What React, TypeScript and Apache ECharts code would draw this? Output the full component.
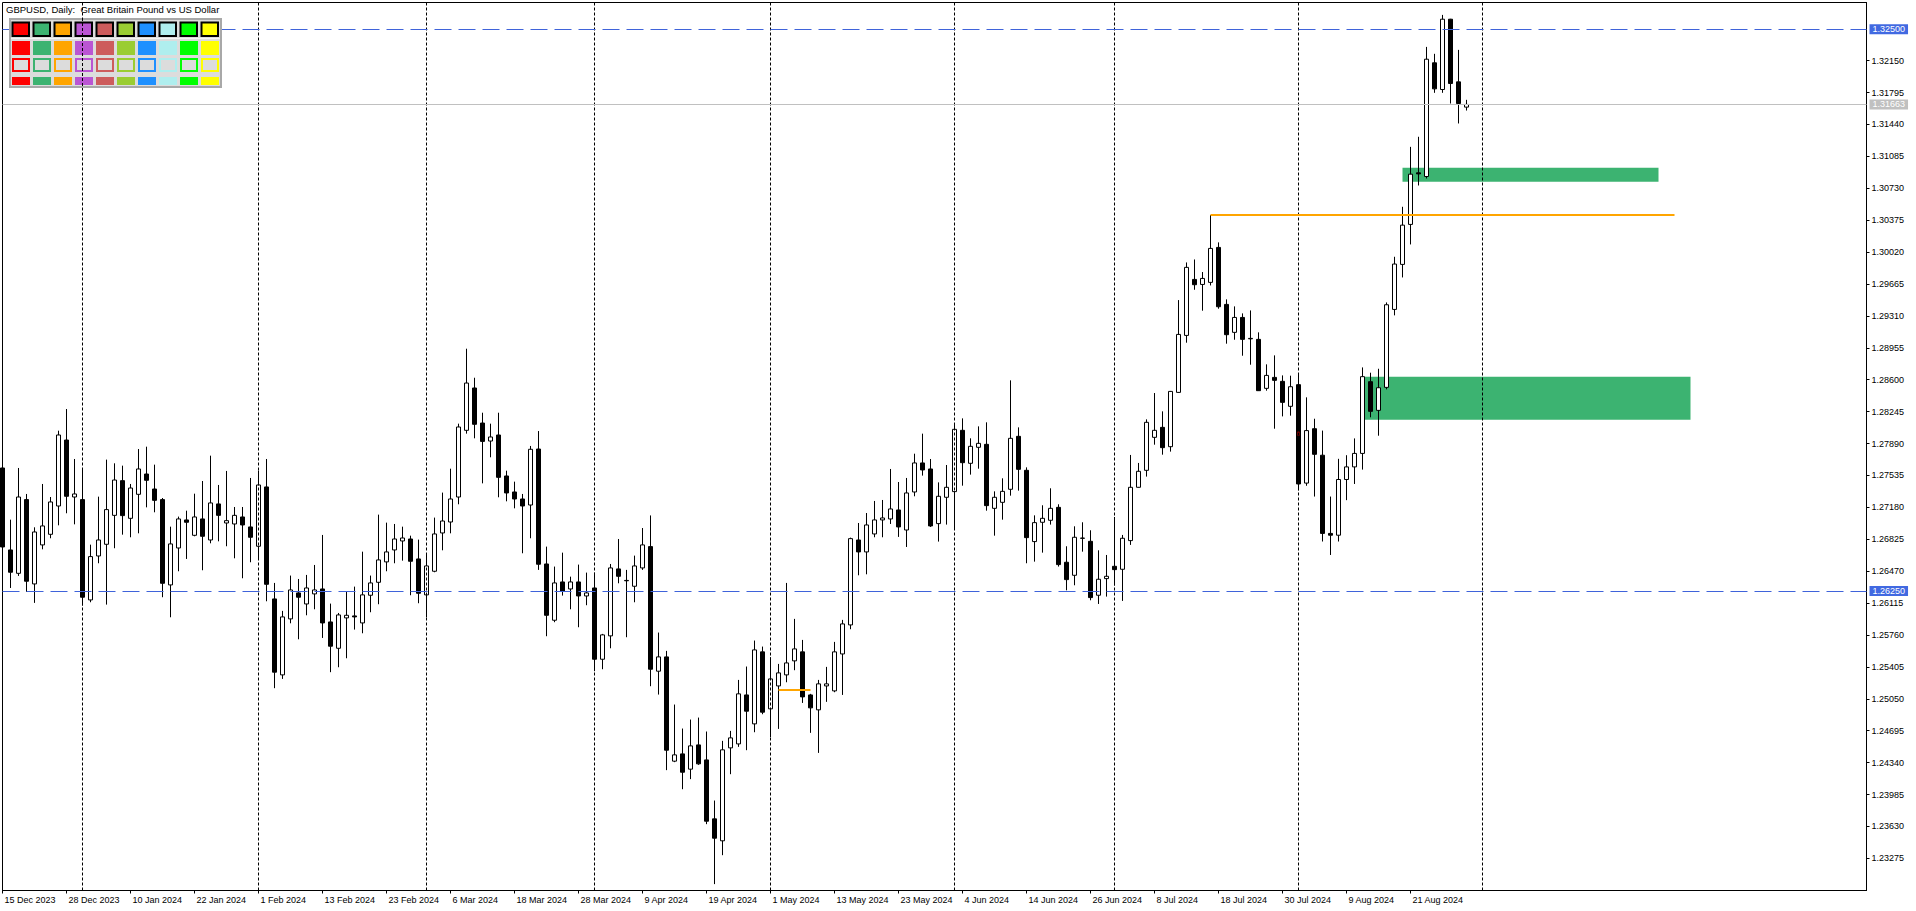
import { useEffect, useRef } from "react";
import * as echarts from "echarts";

// ---- trading days shown on the chart ----
const DEC23 = [15, 18, 19, 20, 21, 22, 26, 27, 28, 29];
const JAN24 = [2, 3, 4, 5, 8, 9, 10, 11, 12, 15, 16, 17, 18, 19, 22, 23, 24, 25, 26, 29, 30, 31];
const FEB24 = [1, 2, 5, 6, 7, 8, 9, 12, 13, 14, 15, 16, 19, 20, 21, 22, 23, 26, 27, 28, 29];
const MAR24 = [1, 4, 5, 6, 7, 8, 11, 12, 13, 14, 15, 18, 19, 20, 21, 22, 25, 26, 27, 28, 29];
const APR24 = [1, 2, 3, 4, 5, 8, 9, 10, 11, 12, 15, 16, 17, 18, 19, 22, 23, 24, 25, 26, 29, 30];
const MAY24 = [1, 2, 3, 6, 7, 8, 9, 10, 13, 14, 15, 16, 17, 20, 21, 22, 23, 24, 27, 28, 29, 30, 31];
const JUN24 = [3, 4, 5, 6, 7, 10, 11, 12, 13, 14, 17, 18, 19, 20, 21, 24, 25, 26, 27, 28];
const JUL24 = [1, 2, 3, 4, 5, 8, 9, 10, 11, 12, 15, 16, 17, 18, 19, 22, 23, 24, 25, 26, 29, 30, 31];
const AUG24 = [1, 2, 5, 6, 7, 8, 9, 12, 13, 14, 15, 16, 19, 20, 21, 22, 23, 26, 27, 28, 29, 30];
const MONTHS: [string, number[]][] = [
  ["Dec 2023", DEC23], ["Jan 2024", JAN24], ["Feb 2024", FEB24], ["Mar 2024", MAR24],
  ["Apr 2024", APR24], ["May 2024", MAY24], ["Jun 2024", JUN24], ["Jul 2024", JUL24], ["Aug 2024", AUG24],
];
const DATES: string[] = MONTHS.flatMap(([m, days]) => days.map((d) => `${d} ${m}`));
const FUTURE_SLOTS = 50;

// ---- OHLC ----
const OPEN = [
  1.27618, 1.26706, 1.26446, 1.27266, 1.26328, 1.26762, 1.26880, 1.27195, 1.27929, 1.27295,
  1.27266, 1.26150, 1.26639, 1.26769, 1.27091, 1.27477, 1.27058, 1.27325, 1.27551, 1.27384,
  1.27266, 1.26317, 1.26728, 1.27040, 1.26869, 1.27051, 1.26817, 1.27218, 1.27006, 1.26995,
  1.27073, 1.26962, 1.26747, 1.27407, 1.26161, 1.25316, 1.25939, 1.26228, 1.26105, 1.26217,
  1.26272, 1.25905, 1.25612, 1.25950, 1.25972, 1.25894, 1.26202, 1.26346, 1.26573, 1.26706,
  1.26806, 1.26828, 1.26606, 1.26206, 1.26469, 1.26895, 1.27017, 1.27295, 1.28037, 1.28508,
  1.28118, 1.27918, 1.27985, 1.27529, 1.27351, 1.27273, 1.27206, 1.27829, 1.26550, 1.25924,
  1.26350, 1.26272, 1.26350, 1.26194, 1.26283, 1.25490, 1.25750, 1.26495, 1.26367, 1.26302,
  1.26506, 1.26743, 1.25357, 1.25516, 1.24356, 1.24437, 1.24267, 1.24537, 1.24370, 1.23714,
  1.23470, 1.24504, 1.24548, 1.25093, 1.24771, 1.25572, 1.24938, 1.25193, 1.25316, 1.25472,
  1.25572, 1.25093, 1.24927, 1.25193, 1.25138, 1.25549, 1.25872, 1.26817, 1.26684, 1.26884,
  1.27040, 1.27051, 1.27151, 1.26928, 1.27351, 1.27674, 1.27607, 1.26999, 1.27292, 1.27355,
  1.28037, 1.27670, 1.27848, 1.27881, 1.27169, 1.27236, 1.27381, 1.27970, 1.27592, 1.26799,
  1.27014, 1.27036, 1.27180, 1.26569, 1.26424, 1.26838, 1.26802, 1.26202, 1.26387, 1.26524,
  1.26491, 1.26810, 1.27403, 1.27592, 1.27959, 1.28070, 1.27855, 1.28459, 1.29093, 1.29716,
  1.29660, 1.29683, 1.30072, 1.29438, 1.29127, 1.29293, 1.29060, 1.29049, 1.28504, 1.28626,
  1.28582, 1.28304, 1.28545, 1.27450, 1.28055, 1.27760, 1.26890, 1.26870, 1.27490, 1.27630,
  1.27780, 1.28578, 1.28259, 1.28515, 1.29382, 1.29883, 1.30328, 1.30902, 1.30861, 1.32126,
  1.31829, 1.32611, 1.31914, 1.31633,
];
const HIGH = [
  1.27700, 1.27043, 1.27618, 1.27329, 1.26958, 1.27440, 1.27295, 1.28033, 1.28274, 1.27718,
  1.27596, 1.26765, 1.27299, 1.27711, 1.27670, 1.27644, 1.27440, 1.27829, 1.27855, 1.27655,
  1.27284, 1.26965, 1.27077, 1.27143, 1.27332, 1.27473, 1.27755, 1.27429, 1.27585, 1.27184,
  1.27184, 1.27507, 1.27588, 1.27718, 1.26339, 1.26028, 1.26421, 1.26383, 1.26428, 1.26539,
  1.26873, 1.26109, 1.26005, 1.26243, 1.26298, 1.26687, 1.26421, 1.27099, 1.27010, 1.26995,
  1.26965, 1.26865, 1.26821, 1.26650, 1.27066, 1.27344, 1.27610, 1.28111, 1.28945, 1.28622,
  1.28233, 1.28111, 1.28233, 1.27588, 1.27466, 1.27329, 1.27863, 1.28029, 1.26743, 1.26521,
  1.26676, 1.26409, 1.26543, 1.26454, 1.26454, 1.25772, 1.26550, 1.26828, 1.26484, 1.26643,
  1.26950, 1.27090, 1.25787, 1.25583, 1.24986, 1.24719, 1.24819, 1.24841, 1.24686, 1.23918,
  1.24582, 1.24693, 1.25260, 1.25409, 1.25698, 1.25631, 1.25512, 1.25438, 1.26339, 1.25939,
  1.25705, 1.25105, 1.25260, 1.25405, 1.25683, 1.25928, 1.26843, 1.27006, 1.27117, 1.27251,
  1.27262, 1.27607, 1.27462, 1.27507, 1.27777, 1.28000, 1.27718, 1.27458, 1.27651, 1.28104,
  1.28170, 1.27948, 1.28081, 1.28126, 1.27358, 1.27503, 1.28593, 1.28070, 1.27625, 1.27091,
  1.27203, 1.27392, 1.27214, 1.26747, 1.26969, 1.27014, 1.26925, 1.26702, 1.26650, 1.27073,
  1.26873, 1.27763, 1.27674, 1.28159, 1.28452, 1.28248, 1.28475, 1.29486, 1.29905, 1.29938,
  1.29798, 1.30432, 1.30128, 1.29494, 1.29416, 1.29338, 1.29371, 1.29127, 1.28771, 1.28871,
  1.28648, 1.28645, 1.28656, 1.28404, 1.28166, 1.28034, 1.27300, 1.27720, 1.27760, 1.27947,
  1.28737, 1.28678, 1.28722, 1.29460, 1.29968, 1.30524, 1.31191, 1.31303, 1.32303, 1.32226,
  1.32659, 1.32615, 1.32270, 1.31714,
];
const LOW = [
  1.26640, 1.26283, 1.26417, 1.26239, 1.26117, 1.26713, 1.26836, 1.26980, 1.27114, 1.26991,
  1.26087, 1.26124, 1.26558, 1.26098, 1.26725, 1.26876, 1.26847, 1.26891, 1.27180, 1.27125,
  1.26180, 1.25957, 1.26469, 1.26606, 1.26858, 1.26480, 1.26780, 1.26802, 1.26747, 1.26613,
  1.26391, 1.26569, 1.26600, 1.26135, 1.25168, 1.25271, 1.25890, 1.25712, 1.25979, 1.26046,
  1.25727, 1.25346, 1.25401, 1.25501, 1.25820, 1.25779, 1.26013, 1.26102, 1.26469, 1.26558,
  1.26587, 1.26202, 1.26113, 1.25957, 1.26458, 1.26702, 1.26891, 1.27214, 1.28000, 1.27948,
  1.27447, 1.27737, 1.27292, 1.27247, 1.27169, 1.26669, 1.26836, 1.26484, 1.25746, 1.25902,
  1.26198, 1.26046, 1.25846, 1.26091, 1.25357, 1.25379, 1.25612, 1.26335, 1.25735, 1.26124,
  1.26484, 1.25190, 1.25097, 1.24256, 1.24345, 1.24044, 1.24156, 1.24315, 1.23655, 1.22988,
  1.23310, 1.24211, 1.24515, 1.24478, 1.24678, 1.24878, 1.24623, 1.24715, 1.25234, 1.25368,
  1.25004, 1.24671, 1.24448, 1.25016, 1.25123, 1.25093, 1.25824, 1.26424, 1.26435, 1.26847,
  1.26847, 1.26995, 1.26851, 1.26739, 1.27303, 1.27533, 1.26962, 1.26799, 1.26988, 1.26932,
  1.27421, 1.27544, 1.27610, 1.27143, 1.26865, 1.27043, 1.27310, 1.27366, 1.26558, 1.26576,
  1.26676, 1.26988, 1.26521, 1.26257, 1.26313, 1.26687, 1.26146, 1.26105, 1.26187, 1.26310,
  1.26139, 1.26762, 1.27400, 1.27522, 1.27877, 1.27766, 1.27800, 1.28455, 1.29012, 1.29601,
  1.29368, 1.29649, 1.29390, 1.29001, 1.29045, 1.28867, 1.28767, 1.28475, 1.28478, 1.28055,
  1.28192, 1.28200, 1.27370, 1.27420, 1.27300, 1.26800, 1.26650, 1.26800, 1.27260, 1.27440,
  1.27600, 1.28182, 1.27977, 1.28493, 1.29316, 1.29738, 1.30105, 1.30761, 1.30839, 1.31792,
  1.31792, 1.31673, 1.31451, 1.31595,
];
const CLOSE = [
  1.26739, 1.26458, 1.27295, 1.26358, 1.26906, 1.26973, 1.27240, 1.27985, 1.27303, 1.27329,
  1.26180, 1.26632, 1.26817, 1.27155, 1.27484, 1.27088, 1.27395, 1.27607, 1.27481, 1.27258,
  1.26335, 1.26773, 1.27051, 1.27014, 1.27073, 1.26858, 1.27229, 1.27091, 1.27032, 1.27091,
  1.26984, 1.26847, 1.27429, 1.26324, 1.25346, 1.25961, 1.26261, 1.26180, 1.26283, 1.26261,
  1.25894, 1.25635, 1.25983, 1.25979, 1.25961, 1.26206, 1.26339, 1.26595, 1.26684, 1.26828,
  1.26839, 1.26580, 1.26224, 1.26528, 1.26884, 1.27028, 1.27273, 1.28074, 1.28563, 1.28104,
  1.27914, 1.27963, 1.27514, 1.27340, 1.27273, 1.27195, 1.27826, 1.26547, 1.25979, 1.26339,
  1.26246, 1.26350, 1.26194, 1.26228, 1.25490, 1.25761, 1.26506, 1.26413, 1.26363, 1.26528,
  1.26762, 1.25379, 1.25516, 1.24478, 1.24426, 1.24233, 1.24526, 1.24326, 1.23688, 1.23499,
  1.24482, 1.24615, 1.25105, 1.24912, 1.25594, 1.24901, 1.25271, 1.25338, 1.25449, 1.25605,
  1.25071, 1.24949, 1.25216, 1.25216, 1.25572, 1.25883, 1.26832, 1.26684, 1.26984, 1.27040,
  1.27062, 1.27162, 1.26962, 1.27340, 1.27674, 1.27596, 1.26973, 1.27303, 1.27403, 1.28048,
  1.27677, 1.27859, 1.27892, 1.27199, 1.27292, 1.27358, 1.27948, 1.27603, 1.26843, 1.27010,
  1.27058, 1.27169, 1.26543, 1.26376, 1.26847, 1.26836, 1.26176, 1.26380, 1.26413, 1.26487,
  1.26836, 1.27403, 1.27581, 1.28126, 1.28037, 1.27844, 1.28470, 1.29104, 1.29850, 1.29657,
  1.29727, 1.30061, 1.29412, 1.29101, 1.29293, 1.29049, 1.29055, 1.28478, 1.28648, 1.28593,
  1.28348, 1.28522, 1.27440, 1.28034, 1.27770, 1.26890, 1.26870, 1.27490, 1.27630, 1.27780,
  1.28634, 1.28248, 1.28511, 1.29434, 1.29887, 1.30320, 1.30887, 1.30890, 1.32166, 1.31836,
  1.32611, 1.31896, 1.31673, 1.31663,
];

// ---- axis ticks & levels ----
const PRICE_TICKS = [
  1.23275, 1.2363, 1.23985, 1.2434, 1.24695, 1.2505, 1.25405, 1.2576, 1.26115, 1.2647,
  1.26825, 1.2718, 1.27535, 1.2789, 1.28245, 1.286, 1.28955, 1.2931, 1.29665, 1.3002,
  1.30375, 1.3073, 1.31085, 1.3144, 1.31795, 1.3215,
];
const LABEL_EVERY = 8;
const BLUE_LEVELS = [1.325, 1.2625];
const CURRENT_PRICE = 1.31663;
const MONTH_SEPARATORS = [10, 32, 53, 74, 96, 119, 139, 162, 185];
const ZONE_FROM = [175, 170];
const ZONE_TO = [207, 211];
const ZONE_TOP = [1.30958, 1.28634];
const ZONE_BOTTOM = [1.30802, 1.28155];
const ORANGE_FROM = [151, 97];
const ORANGE_TO = [209, 101];
const ORANGE_PRICE = [1.30432, 1.25156];
const RED_MARKS = [[162, 1.28]];
const PALETTE = ["#FF0000", "#3CB371", "#FFA500", "#BA55D3", "#CD5C5C", "#9ACD32", "#1E90FF", "#AFEEEE", "#00FF00", "#FFFF00"];
const TITLE = "GBPUSD, Daily:  Great Britain Pound vs US Dollar";

const FONT = "'Liberation Sans', Arial, sans-serif";

export default function App() {
  const ref = useRef<HTMLDivElement>(null);
  useEffect(() => {
    const chart = echarts.init(ref.current!, null, { renderer: "svg" });
    const cats = [...DATES, ...Array.from({ length: FUTURE_SLOTS }, (_, i) => `+${i + 1}`)];
    const candles = DATES.map((_, i) => [OPEN[i], CLOSE[i], LOW[i], HIGH[i]]);
    const showLabel = (i: number) => i % LABEL_EVERY === 0 && i < DATES.length;

    const priceLabel = (bg: string, txt: string) => ({
      show: true,
      position: "end",
      formatter: txt,
      backgroundColor: bg,
      color: "#fff",
      fontSize: 9,
      fontFamily: FONT,
      lineHeight: 10,
      padding: [0, 3, 0, 3],
      distance: 3,
    });

    const markLines: any[] = [];
    MONTH_SEPARATORS.forEach((x) =>
      markLines.push({ xAxis: x, lineStyle: { color: "#000", type: [3, 2], width: 1 }, label: { show: false } })
    );
    BLUE_LEVELS.forEach((v) =>
      markLines.push({
        yAxis: v,
        lineStyle: { color: "#3F63DA", type: [17, 7], width: 1 },
        label: priceLabel("#4169E1", v.toFixed(5)),
      })
    );
    markLines.push({
      yAxis: CURRENT_PRICE,
      lineStyle: { color: "#C0C0C0", type: "solid", width: 1 },
      label: priceLabel("#C0C0C0", CURRENT_PRICE.toFixed(5)),
    });
    ORANGE_PRICE.forEach((p, k) => {
      const st = { color: "#FFA500", type: "solid", width: 2 };
      markLines.push([
        { coord: [ORANGE_FROM[k], p], lineStyle: st, label: { show: false } },
        { coord: [ORANGE_TO[k], p], lineStyle: st, label: { show: false } },
      ]);
    });

    const zones = ZONE_FROM.map((f, k) => [
      { coord: [f, ZONE_TOP[k]] },
      { coord: [ZONE_TO[k], ZONE_BOTTOM[k]] },
    ]);

    // palette panel (decoration at top-left)
    const Z = 15;
    const panel: any[] = [
      { type: "rect", z: Z, shape: { x: 10, y: 19, width: 211, height: 68 }, style: { fill: "#dcdcdc", stroke: "#a8a8a8", lineWidth: 2 } },
      { type: "line", z: Z, shape: { x1: 11, y1: 38.5, x2: 220, y2: 38.5 }, style: { stroke: "#f4f4f4", lineWidth: 1 } },
    ];
    PALETTE.forEach((c, k) => {
      const x = 12 + 21 * k;
      panel.push({ type: "rect", z: Z + 1, shape: { x: x + 0.5, y: 22.5, width: 16.5, height: 13.5 }, style: { fill: c, stroke: "#000", lineWidth: 2 } });
      panel.push({ type: "rect", z: Z + 1, shape: { x, y: 41, width: 18, height: 14 }, style: { fill: c } });
      panel.push({ type: "rect", z: Z + 1, shape: { x: x + 1, y: 59, width: 16, height: 12 }, style: { fill: "#dcdcdc", stroke: c, lineWidth: 2 } });
      panel.push({ type: "rect", z: Z + 1, shape: { x, y: 77, width: 18, height: 8 }, style: { fill: c } });
    });
    const graphics: any[] = [
      { type: "text", left: 6, top: 4, z: 20, style: { text: TITLE, font: `9.5px ${FONT}`, fill: "#000" } },
      ...panel,
    ];

    chart.setOption({
      animation: false,
      backgroundColor: "#ffffff",
      grid: {
        left: 2.5,
        top: 2.5,
        right: 49.5,
        bottom: 20.5,
        show: true,
        borderColor: "#000",
        borderWidth: 1,
        backgroundColor: "transparent",
        containLabel: false,
        outerBoundsMode: "none",
      },
      xAxis: {
        type: "category",
        data: cats,
        boundaryGap: false,
        axisLine: { show: true, lineStyle: { color: "#000", width: 1 } },
        axisTick: { show: true, interval: showLabel, length: 3, lineStyle: { color: "#000" } },
        axisLabel: {
          interval: showLabel,
          formatter: (v: string) => (v.startsWith("+") ? "" : v),
          align: "left",
          margin: 5,
          fontSize: 9,
          fontFamily: FONT,
          color: "#000",
          padding: [0, 0, 0, 2],
        },
        splitLine: { show: false },
      },
      yAxis: {
        type: "value",
        position: "right",
        min: 1.22917,
        max: 1.32797,
        axisLine: { show: true, lineStyle: { color: "#000", width: 1 } },
        axisTick: { show: true, customValues: PRICE_TICKS, length: 3, lineStyle: { color: "#000" } },
        axisLabel: {
          customValues: PRICE_TICKS,
          formatter: (v: number) => v.toFixed(5),
          margin: 5,
          fontSize: 9,
          fontFamily: FONT,
          color: "#000",
        },
        splitLine: { show: false },
      },
      series: [
        {
          type: "line",
          data: [],
          z: 1,
          clip: false,
          silent: true,
          symbol: "none",
          markArea: {
            silent: true,
            itemStyle: { color: "#3CB371", opacity: 1 },
            label: { show: false },
            data: zones,
          },
          markLine: {
            silent: true,
            precision: 5,
            symbol: ["none", "none"],
            animation: false,
            data: markLines,
          },
        },
        {
          type: "candlestick",
          data: candles,
          z: 2,
          barWidth: 4,
          silent: true,
          itemStyle: {
            color: "#ffffff",
            color0: "#000000",
            borderColor: "#000000",
            borderColor0: "#000000",
            borderColorDoji: "#000000",
            borderWidth: 1,
          },
        },
        {
          type: "scatter",
          data: RED_MARKS,
          z: 3,
          silent: true,
          symbol: "rect",
          symbolSize: [2, 4],
          itemStyle: { color: "#FF0000" },
        },
      ],
      graphic: graphics,
    });

    // month separator drawn over the palette panel, as in the reference
    const sx = chart.convertToPixel({ xAxisIndex: 0 }, MONTH_SEPARATORS[0]) as number;
    if (typeof sx === "number" && isFinite(sx)) {
      chart.setOption({
        graphic: [
          ...graphics,
          {
            type: "line",
            z: 30,
            shape: { x1: sx, y1: 18, x2: sx, y2: 88 },
            style: { stroke: "#000", lineWidth: 1, lineDash: [3, 2] },
          },
        ],
      });
    }
    return () => chart.dispose();
  }, []);
  return (
    <div
      ref={ref}
      style={{ position: "fixed", left: 0, top: 0, width: 1916, height: 911, background: "#fff" }}
    />
  );
}
